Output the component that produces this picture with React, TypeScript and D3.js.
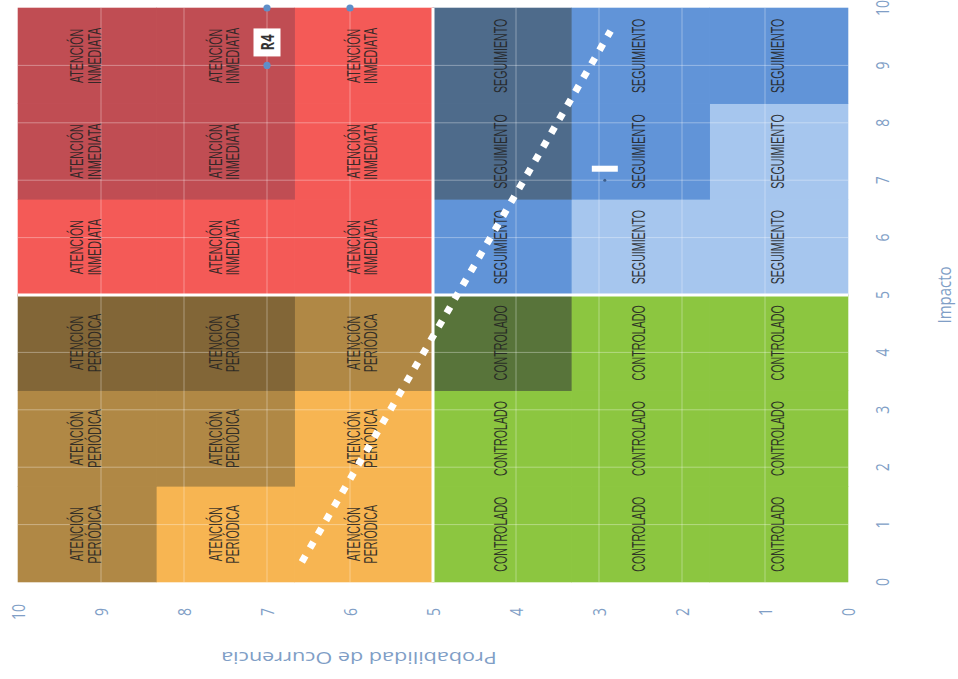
import React, { useEffect, useRef } from "react";
import * as d3 from "d3";

// zonas de la matriz (impacto en x, probabilidad en y del gráfico original)
const zoneNames = ["CONTROLADO", "SEGUIMIENTO", "ATENCIÓN PERIÓDICA", "ATENCIÓN INMEDIATA"];
const zoneImpact = [[0, 5], [5, 10], [0, 5], [5, 10]];
const zoneProb = [[0, 5], [0, 5], [5, 10], [5, 10]];
// nivel de sombra de cada subcelda [fila de probabilidad][columna de impacto]
const zoneShades = [
	[[0, 0, 0], [0, 0, 0], [0, 0, 1]],
	[[0, 0, 1], [0, 1, 1], [1, 2, 2]],
	[[0, 0, 1], [0, 1, 2], [1, 1, 2]],
	[[0, 0, 0], [0, 1, 1], [0, 1, 1]],
];
const shadeColors = [
	["#8cc640", "#58743a"],
	["#a6c6ee", "#6194d8", "#4e6b8b"],
	["#f7b552", "#b08845", "#826637"],
	["#f45a57", "#c04d53"],
];

const axisTicks = [0, 1, 2, 3, 4, 5, 6, 7, 8, 9, 10];
const gridTicks = [1, 2, 3, 4, 6, 7, 8, 9];

// línea punteada
const trendImpact = [0.35, 9.6];
const trendProb = [6.58, 2.86];

// puntos marcados
const pointImpact = [10, 9, 10];
const pointProb = [7, 7, 6];
const noteText = "R4";
const noteImpact = 9.4;
const noteProb = 7;
const boxImpact = 7.2;
const boxProb = 2.93;

const STRETCH = 1.35;
const axisColor = "#809ec6";

export default function App() {
	const svgRef = useRef<SVGSVGElement | null>(null);

	useEffect(() => {
		if (!svgRef.current) return;
		const svg = d3.select(svgRef.current);
		svg.selectAll("*").remove();

		const x = d3.scaleLinear().domain([10, 0]).range([18, 848]);
		const y = d3.scaleLinear().domain([0, 10]).range([582, 8]);

		const g = svg.append("g");

		// subceldas coloreadas
		zoneNames.forEach((name, z) => {
			const [i0, i1] = zoneImpact[z];
			const [p0, p1] = zoneProb[z];
			const wi = (i1 - i0) / 3;
			const wp = (p1 - p0) / 3;
			zoneShades[z].forEach((row, j) =>
				row.forEach((lvl, i) => {
					const a0 = i0 + i * wi;
					const b0 = p0 + j * wp;
					g.append("rect")
						.attr("x", x(b0 + wp) - 0.3)
						.attr("y", y(a0 + wi) - 0.3)
						.attr("width", x(b0) - x(b0 + wp) + 0.6)
						.attr("height", y(a0) - y(a0 + wi) + 0.6)
						.attr("fill", shadeColors[z][lvl]);
				})
			);
		});

		// rejilla
		gridTicks.forEach((t) => {
			g.append("line")
				.attr("x1", x(t)).attr("x2", x(t))
				.attr("y1", y(0)).attr("y2", y(10))
				.attr("stroke", "#fff").attr("stroke-opacity", 0.35).attr("stroke-width", 1);
			g.append("line")
				.attr("x1", x(0)).attr("x2", x(10))
				.attr("y1", y(t)).attr("y2", y(t))
				.attr("stroke", "#fff").attr("stroke-opacity", 0.35).attr("stroke-width", 1);
		});

		// separación de cuadrantes
		g.append("line")
			.attr("x1", x(5)).attr("x2", x(5)).attr("y1", y(0)).attr("y2", y(10))
			.attr("stroke", "#fff").attr("stroke-width", 3);
		g.append("line")
			.attr("x1", x(0)).attr("x2", x(10)).attr("y1", y(5)).attr("y2", y(5))
			.attr("stroke", "#fff").attr("stroke-width", 3);

		// textos de las celdas
		zoneNames.forEach((name, z) => {
			const [i0, i1] = zoneImpact[z];
			const [p0, p1] = zoneProb[z];
			const wi = (i1 - i0) / 3;
			const wp = (p1 - p0) / 3;
			const words = name.split(" ");
			for (let j = 0; j < 3; j++) {
				for (let i = 0; i < 3; i++) {
					const cx = x(p0 + (j + 0.5) * wp);
					const cy = y(i0 + (i + 0.5) * wi);
					const t = g.append("text")
						.attr("transform", `translate(${cx},${cy}) rotate(-90) scale(0.82,${STRETCH})`)
						.attr("text-anchor", "middle")
						.attr("dominant-baseline", "middle")
						.attr("font-family", "Liberation Sans, Arial, sans-serif")
						.attr("font-size", 13)
						.attr("fill", "#222")
						.attr("fill-opacity", 0.88);
					words.forEach((w, k) => {
						t.append("tspan")
							.attr("x", 0)
							.attr("y", (k - (words.length - 1) / 2) * 13)
							.text(w);
					});
				}
			}
		});

		// línea punteada blanca
		const line = d3.line<number>()
			.x((_, k) => x(trendProb[k]))
			.y((d) => y(d));
		g.append("path")
			.attr("d", line(trendImpact))
			.attr("fill", "none")
			.attr("stroke", "#fff")
			.attr("stroke-width", 7)
			.attr("stroke-dasharray", "7 9");

		// caja blanca pequeña
		g.append("circle")
			.attr("cx", x(boxProb)).attr("cy", y(7))
			.attr("r", 1.5).attr("fill", "#3d5f8c");
		g.append("rect")
			.attr("x", x(boxProb) - 13).attr("y", y(boxImpact) - 3)
			.attr("width", 26).attr("height", 6)
			.attr("fill", "#fff");

		// puntos
		g.selectAll(".pt")
			.data(pointImpact)
			.enter()
			.append("circle")
			.attr("class", "pt")
			.attr("cx", (_, k) => x(pointProb[k]))
			.attr("cy", (d) => y(d))
			.attr("r", 3.6)
			.attr("fill", "#5e8fc9");

		// anotación R4
		const note = g.append("g")
			.attr("transform", `translate(${x(noteProb)},${y(noteImpact)}) rotate(-90) scale(1,${STRETCH})`);
		note.append("rect")
			.attr("x", -14).attr("y", -10).attr("width", 28).attr("height", 20)
			.attr("fill", "#fff");
		note.append("text")
			.attr("text-anchor", "middle")
			.attr("dominant-baseline", "central")
			.attr("font-family", "Open Sans, sans-serif")
			.attr("font-weight", "bold")
			.attr("font-size", 13)
			.attr("fill", "#333")
			.text(noteText);

		// etiquetas de ejes
		axisTicks.forEach((t) => {
			g.append("text")
				.attr("transform", `translate(${x(t)},612) rotate(-90) scale(1,${STRETCH})`)
				.attr("text-anchor", "middle")
				.attr("dominant-baseline", "central")
				.attr("font-family", "Open Sans, sans-serif")
				.attr("font-size", 14)
				.attr("fill", axisColor)
				.text(t);
			g.append("text")
				.attr("transform", `translate(882,${y(t)}) rotate(-90) scale(1,${STRETCH})`)
				.attr("text-anchor", "middle")
				.attr("dominant-baseline", "central")
				.attr("font-family", "Open Sans, sans-serif")
				.attr("font-size", 14)
				.attr("fill", axisColor)
				.text(t);
		});

		g.append("text")
			.attr("transform", `translate(359,658) rotate(180) scale(${STRETCH},1)`)
			.attr("text-anchor", "middle")
			.attr("dominant-baseline", "central")
			.attr("font-family", "Open Sans, sans-serif")
			.attr("font-size", 16)
			.attr("fill", axisColor)
			.text("Probabilidad de Ocurrencia");

		g.append("text")
			.attr("transform", `translate(944,${y(5)}) rotate(-90) scale(1,1.2)`)
			.attr("text-anchor", "middle")
			.attr("dominant-baseline", "central")
			.attr("font-family", "Open Sans, sans-serif")
			.attr("font-size", 15)
			.attr("fill", axisColor)
			.text("Impacto");
	}, []);

	return (
		<svg
			ref={svgRef}
			width={958}
			height={679}
			style={{ position: "absolute", left: 0, top: 0, background: "#fff" }}
		></svg>
	);
}
